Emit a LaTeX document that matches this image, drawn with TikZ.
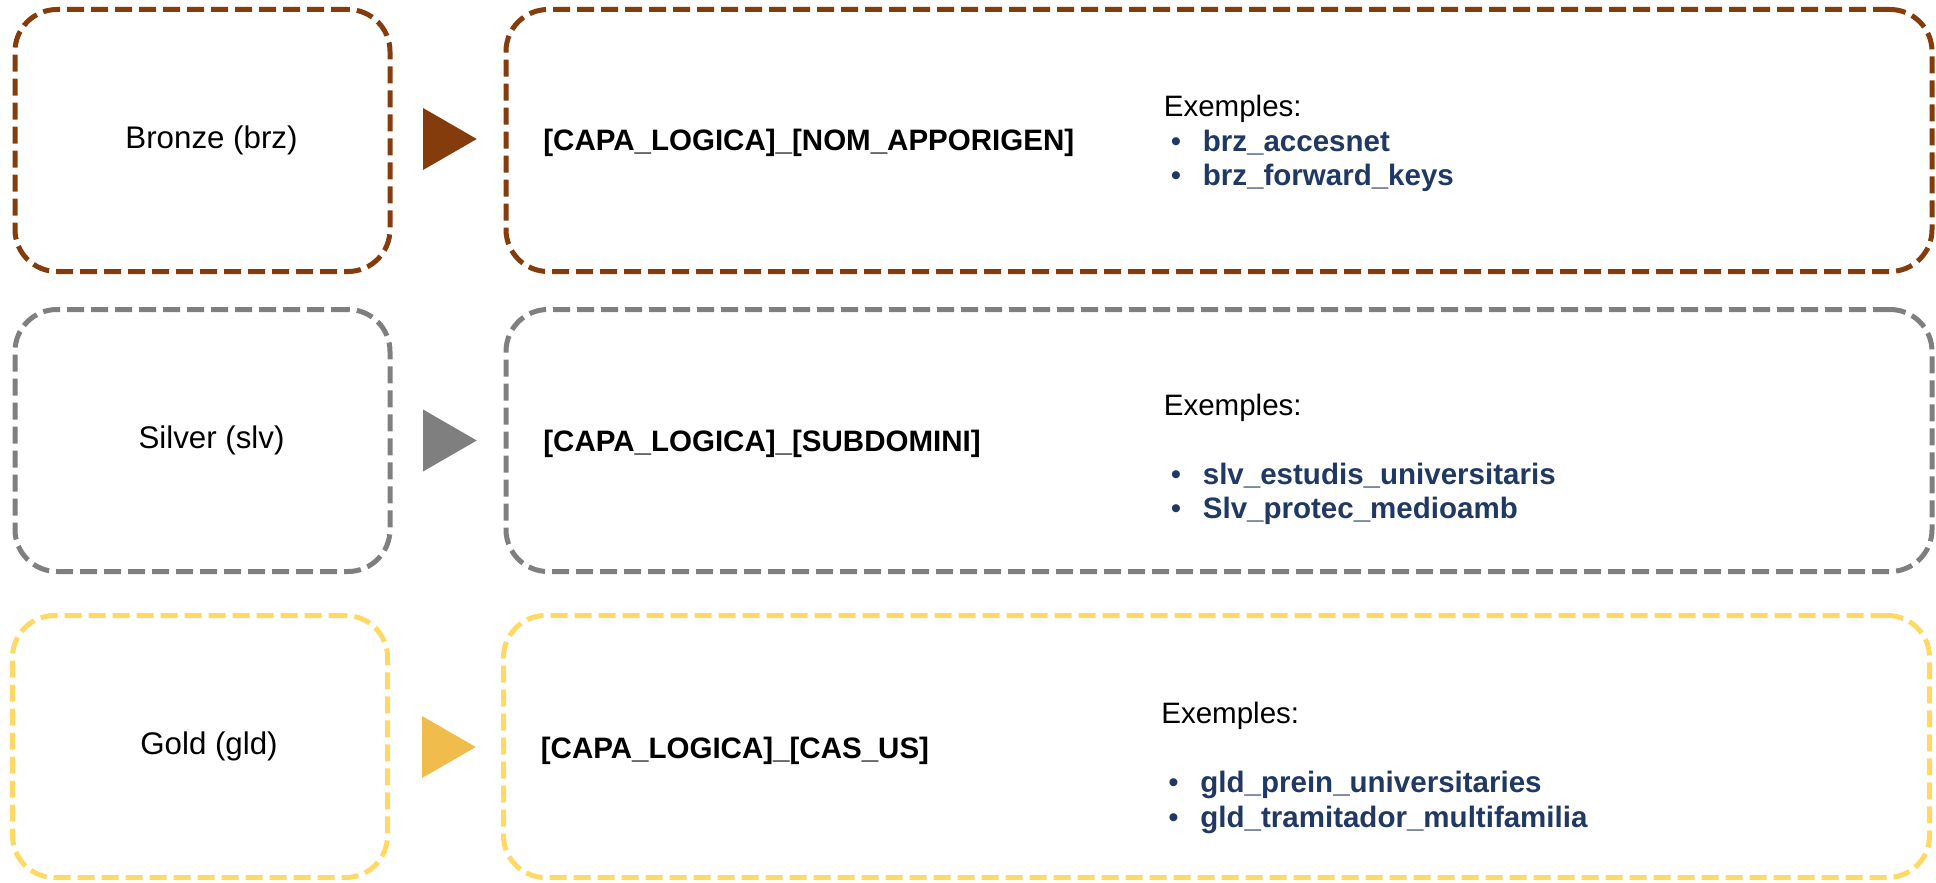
\documentclass[tikz,border=0pt]{standalone}
\usepackage{fontspec}
\setmainfont{Liberation Sans}
\usepackage{xcolor}
\usepackage{tikz}
\usetikzlibrary{positioning,shapes.geometric}
\definecolor{bronzebrown}{HTML}{843C0C}
\definecolor{silvergrey}{HTML}{7F7F7F}
\definecolor{goldyellow}{HTML}{FFD966}
\definecolor{goldarrow}{HTML}{F0BC4C}
\definecolor{itemblue}{HTML}{1F3864}
\newcommand{\exitem}[1]{{\color{itemblue}\hspace*{0.14cm}\makebox[0.64cm][l]{\textbullet}\textbf{#1}}}

\begin{document}
\begin{tikzpicture}[node distance = 20.33cm ,on grid ,layer/.style ={ rectangle ,rounded corners =0.84cm ,dash pattern =on 0.34cm off 0.14cm ,line width =0.1cm ,minimum width =7.5cm ,minimum height =5.24cm ,inner sep =0 ,outer sep =0}, naming/.style ={ layer ,minimum width =28.52cm}, pointer/.style ={ regular polygon ,regular polygon sides =3 ,shape border rotate =-90 ,minimum size =1.43cm ,inner sep =0 ,outer sep =0}, lbl/.style ={ font =\fontsize{17.8}{20}\selectfont}, pattern/.style ={ anchor =west ,inner sep =0 ,font =\fontsize{16.8}{19.6}\selectfont\bfseries}, examples/.style ={ anchor =base west ,inner sep =0 ,align =left ,font =\fontsize{16.8}{19.6}\selectfont}]
\useasboundingbox (0,0) rectangle (38.72,-17.64);
% bronze
\node[layer, draw=bronzebrown] (bronze) at (4.05,-2.81) {};
\node[lbl] (bronzelbl) at ([xshift=0.18cm]bronze.center) {Bronze (brz)};
\node[pointer, fill=bronzebrown] (bronzeptr) at (8.82,-2.78) {};
\node[naming, draw=bronzebrown] (bronzename) [right = of bronze] {};
\node[pattern] (bronzepat) at ([xshift=0.74cm,yshift=-0.04cm]bronzename.west) {[CAPA\_LOGICA]\_[NOM\_APPORIGEN]};
\node[examples] (bronzeex) at ([xshift=13.15cm,yshift=-0.90cm]bronzename.west) {Exemples:\\ \exitem{brz\_accesnet}\\ \exitem{brz\_forward\_keys}};
% silver
\node[layer, draw=silvergrey] (silver) at (4.05,-8.81) {};
\node[lbl] (silverlbl) at ([xshift=0.18cm]silver.center) {Silver (slv)};
\node[pointer, fill=silvergrey] (silverptr) at (8.82,-8.81) {};
\node[naming, draw=silvergrey] (silvername) [right = of silver] {};
\node[pattern] (silverpat) at ([xshift=0.74cm,yshift=-0.06cm]silvername.west) {[CAPA\_LOGICA]\_[SUBDOMINI]};
\node[examples] (silverex) at ([xshift=13.15cm,yshift=-1.56cm]silvername.west) {Exemples:\\[19.6pt] \exitem{slv\_estudis\_universitaris}\\ \exitem{Slv\_protec\_medioamb}};
% gold
\node[layer, draw=goldyellow] (gold) at (4.0,-14.93) {};
\node[lbl] (goldlbl) at ([xshift=0.18cm]gold.center) {Gold (gld)};
\node[pointer, fill=goldarrow] (goldptr) at (8.80,-14.94) {};
\node[naming, draw=goldyellow] (goldname) [right = of gold] {};
\node[pattern] (goldpat) at ([xshift=0.74cm,yshift=-0.08cm]goldname.west) {[CAPA\_LOGICA]\_[CAS\_US]};
\node[examples] (goldex) at ([xshift=13.15cm,yshift=-1.61cm]goldname.west) {Exemples:\\[19.6pt] \exitem{gld\_prein\_universitaries}\\ \exitem{gld\_tramitador\_multifamilia}};
\end{tikzpicture}
\end{document}
